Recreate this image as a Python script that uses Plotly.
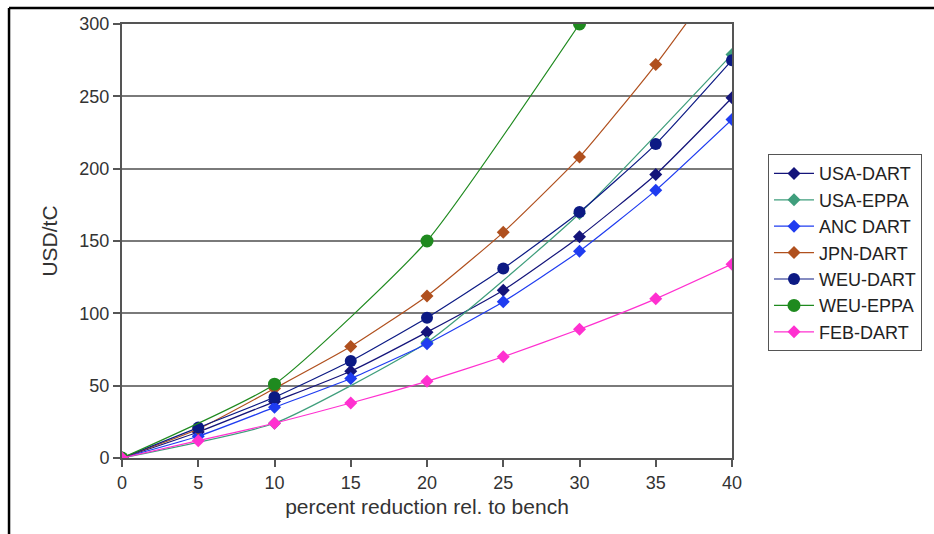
import plotly.graph_objects as go

# Carbon price (USD/tC) against percent emission reduction relative to benchmark
x_dart = [0, 5, 10, 15, 20, 25, 30, 35, 40]
x_eppa = [0, 10, 20, 30, 40]
x_weu_eppa = [0, 10, 20, 30]

usa_dart = [0, 18, 39, 60, 87, 116, 153, 196, 249]
usa_eppa = [0, 24, 80, 169, 279]
anc_dart = [0, 15, 35, 55, 79, 108, 143, 185, 234]
jpn_dart = [0, 20, 48, 77, 112, 156, 208, 272, 344]
weu_dart = [0, 21, 42, 67, 97, 131, 170, 217, 275]
weu_eppa = [0, 51, 150, 300]
feb_dart = [0, 12, 24, 38, 53, 70, 89, 110, 134]

x_ticks = [0, 5, 10, 15, 20, 25, 30, 35, 40]
y_ticks = [0, 50, 100, 150, 200, 250, 300]

series = [
    ("USA-DART", x_dart, usa_dart, "#14147a", "diamond", 10),
    ("USA-EPPA", x_eppa, usa_eppa, "#3f9e7c", "diamond", 10),
    ("ANC DART", x_dart, anc_dart, "#1f3cf0", "diamond", 10),
    ("JPN-DART", x_dart, jpn_dart, "#b0501e", "diamond", 10),
    ("WEU-DART", x_dart, weu_dart, "#0c1a84", "circle", 12),
    ("WEU-EPPA", x_weu_eppa, weu_eppa, "#1f8a1f", "circle", 13),
    ("FEB-DART", x_dart, feb_dart, "#ff30d0", "diamond", 10),
]

FONT = "Liberation Sans, Arial, sans-serif"

fig = go.Figure()
for i, (name, xs, ys, color, symbol, size) in enumerate(series):
    fig.add_trace(go.Scatter(
        x=xs, y=ys, name=name, mode="lines+markers",
        line=dict(color=color, width=1.2, shape="spline", smoothing=0.5),
        marker=dict(color=color, symbol=symbol, size=size),
        legendgroup=f"g{i}",
    ))

axis_font = dict(family=FONT, size=18, color="#333333")
title_font = dict(family=FONT, size=21, color="#333333")

fig.update_layout(
    width=934, height=534,
    margin=dict(l=122, r=202, t=24, b=76),
    paper_bgcolor="white", plot_bgcolor="white",
    font=dict(family=FONT, size=14, color="#222222"),
    showlegend=True,
    legend=dict(
        x=1.059, y=0.70, xanchor="left", yanchor="top",
        bgcolor="white", bordercolor="#555555", borderwidth=1,
        font=dict(family=FONT, size=18, color="#222222"),
        tracegroupgap=0, itemwidth=40,
    ),
    xaxis=dict(
        range=[0, 40], tickvals=x_ticks, ticks="outside", ticklen=7,
        tickcolor="#555555", tickwidth=1.5,
        showgrid=False, showline=True, linecolor="#555555", linewidth=2,
        mirror=True, zeroline=False, tickfont=axis_font,
        title=dict(text="percent reduction rel. to bench", font=title_font, standoff=8),
    ),
    yaxis=dict(
        range=[0, 300], tickvals=y_ticks, ticks="outside", ticklen=7,
        tickcolor="#555555", tickwidth=1.5,
        showgrid=True, gridcolor="#7a7a7a", gridwidth=1.5,
        showline=True, linecolor="#555555", linewidth=2,
        mirror=True, zeroline=False, tickfont=axis_font,
        title=dict(text="USD/tC", font=title_font, standoff=16),
    ),
    shapes=[
        dict(type="line", xref="paper", yref="paper", x0=-0.1852, x1=1.35, y0=1.0369, y1=1.0369,
             line=dict(color="black", width=2.5)),
        dict(type="line", xref="paper", yref="paper", x0=-0.1852, x1=-0.1852, y0=1.0369, y1=-0.2,
             line=dict(color="black", width=2.5)),
    ],
)

fig.write_html("out.html")
